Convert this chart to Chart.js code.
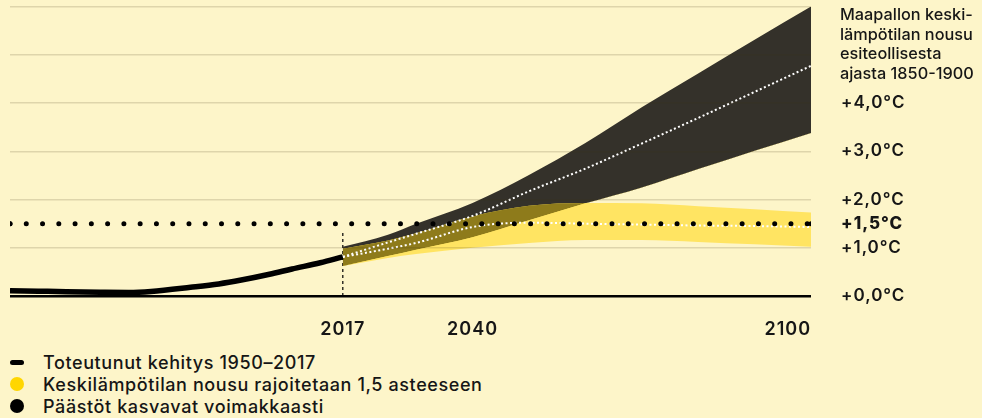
<!doctype html>
<html>

<head>
    <title>Maapallon keskilämpötila</title>
    <meta http-equiv="Content-Type" content="text/html;charset=UTF-8">
    <script src="https://cdn.jsdelivr.net/npm/chart.js@4/dist/chart.umd.min.js"></script>
    <style>
        body { margin: 0; background: #fdf5c9; font-family: Inter, "Noto Sans", sans-serif; color: #161616; }
        #kaavio { position: absolute; left: 0; top: 0; width: 982px; height: 340px; }
        #otsikko { position: absolute; left: 840px; top: 5px; width: 142px; white-space: nowrap; font-size: 16.3px; font-weight: 500; line-height: 19.5px; }
        #selite { position: absolute; left: 0; top: 351px; font-size: 18px; font-weight: 500; letter-spacing: 0.6px; white-space: nowrap; }
        .rivi { height: 22px; display: flex; align-items: center; }
        .merkki { width: 34px; display: flex; justify-content: center; margin-right: 9px; }
        .viiva { width: 14px; height: 5px; border-radius: 3px; background: #000; }
        .pallo { width: 14px; height: 14px; border-radius: 50%; }
    </style>
</head>

<body>
    <div id="kaavio"><canvas id="grafico"></canvas></div>
    <div id="otsikko">Maapallon keski-<br>lämpötilan nousu<br>esiteollisesta<br>ajasta 1850-1900</div>
    <div id="selite">
        <div class="rivi"><span class="merkki"><span class="viiva"></span></span>Toteutunut kehitys 1950–2017</div>
        <div class="rivi"><span class="merkki"><span class="pallo" style="background:#ffd600"></span></span>Keskilämpötilan nousu rajoitetaan 1,5 asteeseen</div>
        <div class="rivi"><span class="merkki"><span class="pallo" style="background:#000"></span></span>Päästöt kasvavat voimakkaasti</div>
    </div>
</body>
<script>

    // toteutunut kehitys
    var vuodet_hist = [1958, 1963, 1968, 1974, 1979, 1983, 1990, 1995, 1999, 2004, 2008, 2013, 2017];
    var lampo_hist = [0.11, 0.10, 0.09, 0.08, 0.075, 0.095, 0.18, 0.25, 0.33, 0.45, 0.56, 0.69, 0.81];

    // skenaariot 2017-2100
    var vuodet = [2017, 2025, 2030, 2040, 2050, 2060, 2070, 2080, 2090, 2100];
    var korkea_ala = [0.62, 0.83, 0.96, 1.22, 1.57, 1.92, 2.25, 2.63, 3.01, 3.38];
    var korkea_yla = [1.02, 1.27, 1.50, 1.93, 2.51, 3.17, 3.91, 4.61, 5.31, 6.00];
    var korkea_keski = [0.81, 1.11, 1.29, 1.66, 2.17, 2.64, 3.16, 3.69, 4.23, 4.77];
    var raja_ala = [0.62, 0.79, 0.87, 1.00, 1.10, 1.16, 1.16, 1.12, 1.07, 1.02];
    var raja_yla = [0.98, 1.15, 1.30, 1.65, 1.87, 1.93, 1.92, 1.86, 1.80, 1.73];
    var raja_keski = [0.81, 0.98, 1.10, 1.43, 1.52, 1.50, 1.48, 1.46, 1.45, 1.43];

    // 1,5 asteen raja ja vuoden 2017 merkki
    var raja_vuodet = [1958, 2100];
    var raja_arvo = 1.5;
    var merkki_vuosi = 2017;
    var merkki_yla = 1.37;

    // akselit
    var x_tikit = [1958, 2017, 2040, 2100];
    var x_nimet = ['', '2017', '2040', '2100'];
    var y_tikit = [0, 1, 1.5, 2, 3, 4, 5, 6];
    var y_nimet = ['+0,0°C', '+1,0°C', '+1,5°C', '+2,0°C', '+3,0°C', '+4,0°C', '', ''];

    function pisteet(xs, ys) {
        return xs.map((x, i) => ({ x: x, y: ys[i] }));
    }

    var kaista = { borderWidth: 0, pointRadius: 0, cubicInterpolationMode: 'monotone' };

    // leveämpi kirjainväli akselien teksteille
    var kirjainvali = {
        id: 'kirjainvali',
        beforeDraw: chart => { chart.ctx.letterSpacing = '1px'; }
    };

    var grafico = new Chart(document.getElementById("grafico"), {
        type: 'line',
        data: {
            datasets: [
                Object.assign({ data: pisteet(vuodet, korkea_ala), fill: false, order: 10 }, kaista),
                Object.assign({ data: pisteet(vuodet, korkea_yla), fill: 0, backgroundColor: '#34312a', order: 9 }, kaista),
                Object.assign({ data: pisteet(vuodet, raja_ala), fill: false, order: 8 }, kaista),
                Object.assign({ data: pisteet(vuodet, raja_yla), fill: 2, backgroundColor: '#ffe462', order: 7 }, kaista),
                // päällekkäinen alue
                Object.assign({ data: pisteet(vuodet, raja_yla), fill: { target: 0, above: '#8e7b1b', below: 'rgba(0,0,0,0)' }, order: 6 }, kaista),
                {
                    data: [{ x: merkki_vuosi, y: 0 }, { x: merkki_vuosi, y: merkki_yla }],
                    borderColor: '#000', borderWidth: 1.2, borderDash: [3, 3], pointRadius: 0, order: 11
                },
                {
                    data: pisteet(vuodet, korkea_keski), borderColor: '#fff', borderWidth: 2,
                    borderDash: [2, 2.5], pointRadius: 0, cubicInterpolationMode: 'monotone', order: 4
                },
                {
                    data: pisteet(vuodet, raja_keski), borderColor: '#fff', borderWidth: 2,
                    borderDash: [2, 2.5], pointRadius: 0, cubicInterpolationMode: 'monotone', order: 3
                },
                {
                    data: raja_vuodet.map(x => ({ x: x, y: raja_arvo })), borderColor: '#000', borderWidth: 5,
                    borderDash: [0, 16.27], borderCapStyle: 'round', pointRadius: 2.5,
                    pointBackgroundColor: '#000', pointBorderWidth: 0, order: 2
                },
                {
                    data: pisteet(vuodet_hist, lampo_hist), borderColor: '#000', borderWidth: 5.5,
                    pointRadius: 0, cubicInterpolationMode: 'monotone', order: 1
                }
            ]
        },
        options: {
            responsive: true,
            maintainAspectRatio: false,
            animation: false,
            layout: { padding: { left: 10, top: 6.5, right: 0, bottom: 0 } },
            plugins: { legend: { display: false }, tooltip: { enabled: false } },
            scales: {
                x: {
                    type: 'linear', min: 1958, max: 2100,
                    afterBuildTicks: s => { s.ticks = x_tikit.map(v => ({ value: v })); },
                    afterFit: s => { s.height = 44; s.paddingLeft = 0; s.paddingRight = 0; },
                    grid: { display: false },
                    border: { display: false },
                    ticks: {
                        align: 'inner', padding: 15, color: '#161616',
                        font: { family: 'Inter', size: 18, weight: '600' },
                        callback: (v, i) => x_nimet[i]
                    }
                },
                y: {
                    position: 'right', min: 0, max: 6,
                    afterBuildTicks: s => { s.ticks = y_tikit.map(v => ({ value: v })); },
                    afterFit: s => { s.width = 171; s.paddingTop = 0; s.paddingBottom = 0; },
                    border: { display: false },
                    grid: {
                        z: 1, drawTicks: false,
                        color: c => c.tick.value === 0 ? '#000' : (c.tick.value === 1.5 ? 'rgba(0,0,0,0)' : 'rgba(60,50,20,0.16)'),
                        lineWidth: c => c.tick.value === 0 ? 2.5 : 1.5
                    },
                    ticks: {
                        padding: 30, color: '#161616',
                        font: c => ({ family: 'Inter', size: 17, weight: c.tick && c.tick.value === 1.5 ? '800' : '600' }),
                        callback: (v, i) => y_nimet[i]
                    }
                }
            }
        },
        plugins: [kirjainvali]
    });
</script>

</html>
